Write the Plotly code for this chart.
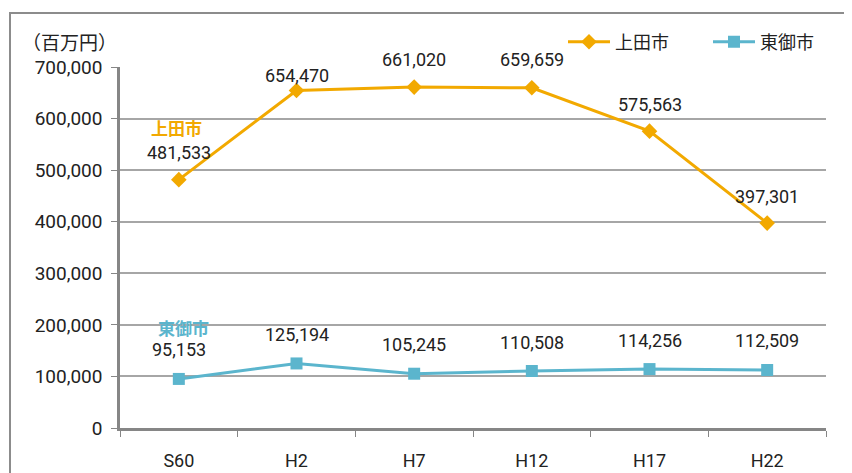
import plotly.graph_objects as go

categories = ["S60", "H2", "H7", "H12", "H17", "H22"]
ueda = [481533, 654470, 661020, 659659, 575563, 397301]
tomi = [95153, 125194, 105245, 110508, 114256, 112509]
ueda_label_shift = [27, 15, 28, 28, 27, 27]
tomi_label_shift = [29, 29, 29, 29, 29, 29]
y_ticks = [0, 100000, 200000, 300000, 400000, 500000, 600000, 700000]
y_tick_labels = ["0", "100,000", "200,000", "300,000", "400,000", "500,000", "600,000", "700,000"]

ORANGE = "#F2A900"
TEAL = "#5BB5CD"
FONT = "Liberation Sans Narrow, Roboto, Noto Sans CJK JP, sans-serif"
CJK = "Noto Sans CJK JP"
TXT = "#222222"

# the page body adds an 8px offset; plot area targeted at x 120..826, y 67..428 in the window
OFF = 8
L, T, R, B = 120 - OFF, 67 - OFF, 26, 45
W, H = 852 - OFF, 473 - OFF
PW, PH = W - L - R, H - T - B


def px_x(x):
    return (x - OFF - L) / PW


def px_y(y):
    return (H - B - (y - OFF)) / PH


fig = go.Figure()
fig.add_trace(go.Scatter(x=categories, y=ueda, name="上田市", mode="lines+markers",
                         line=dict(color=ORANGE, width=3), legend="legend",
                         marker=dict(symbol="diamond", size=12, color=ORANGE)))
fig.add_trace(go.Scatter(x=categories, y=tomi, name="東御市", mode="lines+markers",
                         line=dict(color=TEAL, width=3), legend="legend2",
                         marker=dict(symbol="square", size=12, color=TEAL)))

ann = []
for c, v, s in zip(categories, ueda, ueda_label_shift):
    ann.append(dict(x=c, y=v, text=f"{v:,}", showarrow=False, yshift=s,
                    font=dict(size=18, color=TXT, family=FONT)))
for c, v, s in zip(categories, tomi, tomi_label_shift):
    ann.append(dict(x=c, y=v, text=f"{v:,}", showarrow=False, yshift=s,
                    font=dict(size=18, color=TXT, family=FONT)))
ann.append(dict(x="S60", y=583500, text="<b>上田市</b>", showarrow=False, xshift=-2,
                font=dict(size=17, color=ORANGE, family=CJK)))
ann.append(dict(x="S60", y=195000, text="<b>東御市</b>", showarrow=False, xshift=5,
                font=dict(size=17, color=TEAL, family=CJK)))
ann.append(dict(xref="paper", yref="paper", x=px_x(20), y=px_y(41),
                xanchor="left", yanchor="middle", text="（百万円）", showarrow=False,
                font=dict(size=19, color=TXT, family=CJK)))

leg_common = dict(orientation="h", xanchor="left", yanchor="middle", y=px_y(42),
                  font=dict(size=18, color=TXT, family=CJK),
                  bgcolor="rgba(0,0,0,0)", itemwidth=42)

fig.update_layout(
    width=W, height=H,
    margin=dict(l=L, r=R, t=T, b=B),
    paper_bgcolor="white", plot_bgcolor="white",
    annotations=ann,
    showlegend=True,
    legend=dict(x=px_x(563), **leg_common),
    legend2=dict(x=px_x(708), **leg_common),
    shapes=[dict(type="rect", xref="paper", yref="paper",
                 x0=px_x(10), x1=px_x(900),
                 y0=px_y(520), y1=px_y(13),
                 line=dict(color="#8C8C8C", width=2), fillcolor="rgba(0,0,0,0)", layer="below")],
)
fig.update_xaxes(type="category", showline=True, linecolor="#868686", linewidth=2.5,
                 tickson="boundaries", ticks="outside", ticklen=6, tickcolor="#868686",
                 showgrid=False, tickfont=dict(size=18, color=TXT, family=FONT),
                 range=[-0.5, 5.5], ticklabelstandoff=15, automargin=False)
fig.update_yaxes(range=[0, 700000], tickvals=y_ticks, ticktext=y_tick_labels,
                 showline=True, linecolor="#868686", linewidth=2.5,
                 ticks="outside", ticklen=6, tickcolor="#868686",
                 showgrid=True, gridcolor="#A6A6A6", gridwidth=1.5,
                 zeroline=False, tickfont=dict(size=19, color=TXT, family=FONT),
                 ticklabelstandoff=5, automargin=False)

fig.write_html("out.html")
